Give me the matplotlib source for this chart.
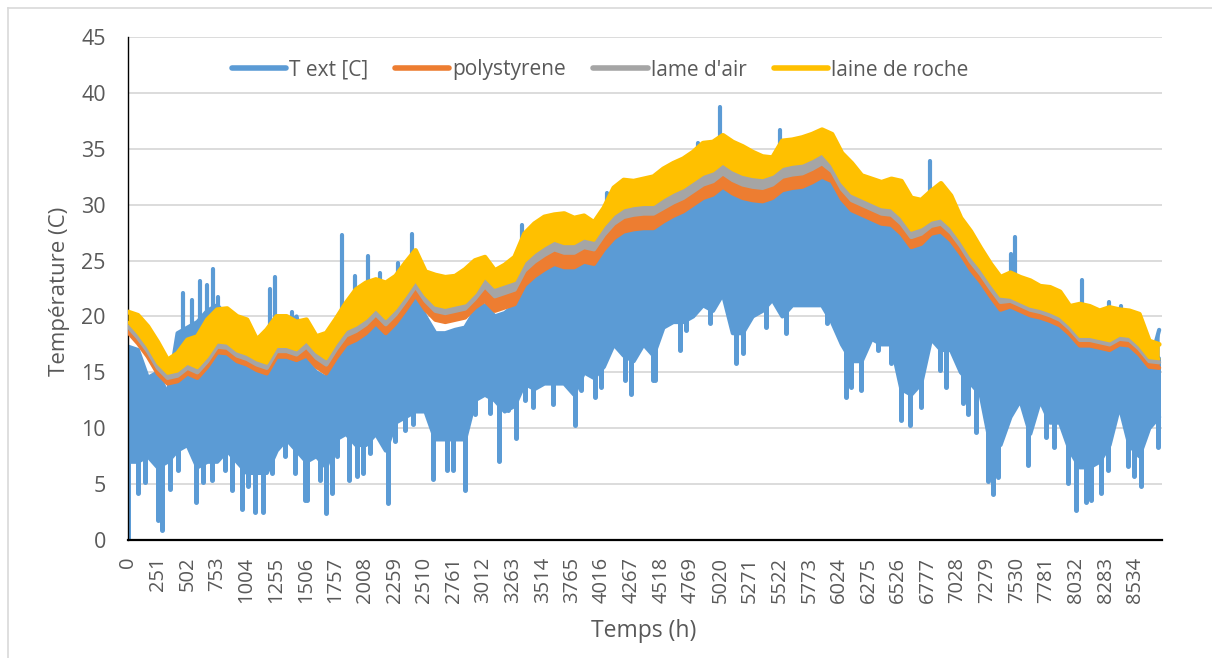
import numpy as np
import matplotlib
matplotlib.use("Agg")
import matplotlib.pyplot as plt
from matplotlib.lines import Line2D

plt.rcParams["font.family"] = ["Open Sans", "DejaVu Sans"]

# ---------------- data ----------------
hours = list(range(0, 8760, 84))          # sample hours (every 84 h)

# T ext: solid body of the hourly trace (lower floor / upper edge)
text_floor = [7.0, 7.0, 7.5, 6.5, 7.0, 8.0, 8.5, 6.5, 7.0, 7.0, 8.0, 7.0, 6.0, 6.0, 6.0, 8.0, 9.0, 8.0,
              7.0, 7.5, 6.5, 9.0, 9.5, 8.5, 8.5, 9.5, 8.0, 10.5, 11.0, 11.5, 11.5, 9.0, 9.0, 9.0, 9.0, 12.5,
              13.0, 12.5, 11.5, 12.0, 14.0, 13.5, 14.0, 14.0, 14.0, 13.0, 15.0, 14.5, 15.5, 17.5, 16.5, 16.0, 17.5, 16.5,
              19.0, 19.5, 19.5, 20.0, 21.0, 20.5, 22.0, 18.5, 18.5, 20.0, 20.5, 21.5, 20.0, 21.0, 21.0, 21.0, 21.0,
              19.5, 17.5, 16.0, 16.0, 18.0, 17.5, 17.5, 13.5, 13.0, 14.0,
              18.0, 17.0, 17.0, 15.0, 14.0, 13.0, 8.5, 8.5,
              11.0, 12.5, 9.5, 12.5, 10.5, 10.5, 8.0, 6.5, 6.5, 7.0, 8.5, 12.0, 8.5, 7.5, 10.0, 11.0]

text_high = [17.3, 17.0, 14.5, 15.0, 13.0, 18.5, 19.0, 19.5, 20.5, 21.0, 20.0, 18.0, 19.0, 18.0, 18.5, 19.5, 18.8, 20.0,
             16.0, 15.0, 14.5, 17.0, 17.5, 18.0, 18.5, 19.4, 18.5, 19.4, 20.6, 21.9, 20.0, 18.5, 18.5, 18.8, 19.0, 20.5,
             21.0, 20.0, 20.3, 21.0, 22.5, 23.5, 24.0, 24.5, 24.2, 24.2, 24.7, 24.5, 25.8, 26.8, 27.4, 27.6, 27.7, 27.7,
             28.3, 28.8, 29.2, 29.8, 30.4, 30.7, 31.4, 30.8, 30.4, 30.2, 30.1, 30.4, 31.1, 31.3, 31.4, 31.8, 32.3,
             31.9, 30.3, 29.2, 28.8, 28.4, 28.0, 28.0, 27.2, 26.0, 26.3,
             27.2, 27.4, 26.6, 25.4, 24.0, 23.0, 21.6, 20.4,
             23.0, 22.0, 19.8, 19.6, 19.4, 19.0, 18.0, 17.2, 17.2, 17.0, 18.0, 18.5, 17.2, 16.4, 15.5, 18.8]

# T ext: narrow downward excursions (daily minima below the body)
dip_hours = [0, 88, 144, 257, 291, 356, 426, 576, 638, 708, 821, 878, 962, 1019, 1075, 1146, 1216, 1329, 1414, 1499,
             1513, 1626, 1676, 1725, 1767, 1874, 1936, 1993, 2049, 2205, 2261, 2346, 2416, 2586, 2699, 2755, 2854,
             2938, 3065, 3141, 3220, 3283, 3361, 3432, 3601, 3785, 3841, 3954, 4011, 4209, 4265, 4449,
             4462, 4674, 4731, 4928, 5154, 5210, 5408, 5578, 5918,
             6085, 6128, 6212, 6354, 6466, 6551, 6622, 6720, 6875, 6932, 7073, 7116, 7186, 7285, 7327, 7370,
             7623, 7779, 7849, 7962, 8033, 8117, 8160, 8244, 8301, 8471, 8527, 8583, 8724]
dip_values = [0.0, 4.2, 5.2, 1.8, 0.9, 4.6, 6.3, 3.4, 5.2, 5.4, 6.3, 4.5, 2.8, 4.8, 2.5, 2.5, 6.0, 7.5, 6.0, 3.6,
              3.6, 5.4, 2.4, 4.2, 7.5, 5.4, 5.7, 6.0, 7.8, 3.3, 8.9, 9.8, 10.4, 5.5, 6.3, 6.3, 4.5,
              11.3, 11.4, 7.1, 11.6, 9.1, 12.5, 11.9, 12.2, 10.3, 13.4, 12.8, 13.7, 14.3, 13.1, 14.3,
              14.3, 17.0, 18.8, 19.4, 15.8, 16.7, 19.1, 18.5, 19.4,
              12.8, 13.7, 13.4, 17.0, 15.8, 10.7, 10.3, 11.9, 15.2, 13.7, 12.3, 11.3, 9.7, 5.3, 4.1, 5.6,
              6.7, 9.2, 8.3, 5.1, 2.7, 3.4, 3.6, 4.2, 6.3, 6.6, 5.7, 4.8, 8.3]

# T ext: narrow upward peaks
spike_hours = [469, 540, 610, 666, 722, 765, 1200, 1245, 1388, 1812, 1922, 2032, 2134, 2290, 2402, 3341, 4062,
               4829, 5017, 5526, 6791, 7480, 7511, 8086, 8315, 8414]
spike_values = [22.1, 21.5, 23.2, 22.8, 24.2, 21.7, 22.5, 23.5, 20.4, 27.3, 23.6, 25.4, 23.9, 24.8, 27.4, 28.2, 31.0,
                35.5, 38.7, 36.7, 33.9, 25.6, 27.1, 23.3, 21.3, 20.9]

# wall temperatures: bottom edge of each series' band, top edge of laine de roche
poly_low = [18.6, 17.6, 16.4, 14.9, 14.0, 14.2, 14.9, 14.5, 15.5, 16.8, 16.7, 16.0, 15.7, 15.2, 14.9, 16.4, 16.4, 16.1,
            16.5, 15.5, 14.9, 16.3, 17.5, 17.9, 18.5, 19.4, 18.5, 19.4, 20.6, 21.9, 20.6, 19.7, 19.5, 19.7, 19.9, 20.8,
            21.4, 20.5, 20.8, 21.1, 22.8, 23.6, 24.2, 24.7, 24.4, 24.4, 24.9, 24.7, 26.0, 27.0, 27.6, 27.8, 27.9, 27.9,
            28.5, 29.0, 29.4, 30.0, 30.6, 30.9, 31.6, 31.0, 30.6, 30.4, 30.3, 30.6, 31.3, 31.5, 31.6, 32.0, 32.5,
            32.1, 30.5, 29.5, 29.1, 28.7, 28.3, 28.2, 27.4, 26.2, 26.5,
            27.4, 27.6, 26.8, 25.6, 24.2, 23.1, 21.8, 20.6,
            20.9, 20.5, 20.1, 19.9, 19.6, 19.2, 18.4, 17.4, 17.4, 17.2, 17.0, 17.5, 17.4, 16.6, 15.5, 15.4]

air_low = [19.1, 18.1, 16.9, 15.4, 14.5, 14.7, 15.4, 15.0, 16.0, 17.3, 17.2, 16.5, 16.2, 15.7, 15.4, 16.9, 16.9, 16.6,
           17.3, 16.3, 15.7, 17.1, 18.3, 18.7, 19.3, 20.2, 19.3, 20.2, 21.4, 22.7, 21.4, 20.5, 20.3, 20.5, 20.7, 21.6,
           22.7, 21.8, 22.1, 22.4, 24.1, 24.9, 25.5, 26.0, 25.7, 25.7, 26.2, 26.0, 27.3, 28.3, 28.9, 29.1, 29.2, 29.2,
           29.7, 30.2, 30.6, 31.2, 31.8, 32.1, 32.8, 32.2, 31.8, 31.6, 31.5, 31.8, 32.5, 32.7, 32.8, 33.2, 33.7,
           33.0, 31.4, 30.4, 30.0, 29.6, 29.2, 29.1, 28.3, 27.1, 27.4,
           28.1, 28.3, 27.5, 26.3, 24.9, 23.8, 22.5, 21.3,
           21.4, 21.0, 20.6, 20.4, 20.1, 19.7, 18.9, 17.9, 17.9, 17.7, 17.5, 18.0, 17.9, 17.1, 16.0, 15.9]

roche_low = [19.5, 18.5, 17.3, 15.8, 14.9, 15.1, 15.8, 15.4, 16.4, 17.7, 17.6, 16.9, 16.6, 16.1, 15.8, 17.3, 17.3, 17.0,
             17.8, 16.8, 16.2, 17.6, 18.8, 19.2, 19.8, 20.7, 19.8, 20.7, 21.9, 23.2, 21.9, 21.0, 20.8, 21.0, 21.2, 22.1,
             23.5, 22.6, 22.9, 23.2, 24.9, 25.7, 26.3, 26.8, 26.5, 26.5, 27.0, 26.8, 28.1, 29.1, 29.7, 29.9, 30.0, 30.0,
             30.6, 31.1, 31.5, 32.1, 32.7, 33.0, 33.7, 33.1, 32.7, 32.5, 32.4, 32.7, 33.4, 33.6, 33.7, 34.1, 34.6,
             33.6, 32.0, 31.0, 30.6, 30.2, 29.8, 29.7, 28.9, 27.7, 28.0,
             28.6, 28.8, 28.0, 26.8, 25.4, 24.3, 23.0, 21.8,
             21.7, 21.3, 20.9, 20.7, 20.4, 20.0, 19.2, 18.2, 18.2, 18.0, 17.8, 18.3, 18.2, 17.4, 16.3, 16.2]

roche_high = [20.4, 20.1, 19.1, 17.7, 16.1, 16.7, 17.9, 18.2, 19.7, 20.6, 20.7, 20.0, 19.7, 17.9, 18.8, 20.0, 20.0, 19.5,
              19.7, 18.2, 18.5, 19.8, 21.2, 22.4, 23.0, 23.3, 23.0, 23.6, 24.8, 25.9, 24.0, 23.7, 23.5, 23.6, 24.2, 25.0,
              25.3, 24.1, 24.6, 25.3, 27.4, 28.3, 28.9, 29.1, 29.2, 28.8, 29.0, 28.4, 29.7, 31.5, 32.2, 32.1, 32.3, 32.5,
              33.2, 33.7, 34.1, 34.7, 35.5, 35.6, 36.2, 35.6, 35.2, 34.7, 34.3, 34.2, 35.7, 35.8, 36.0, 36.3, 36.7,
              36.3, 34.6, 33.7, 32.6, 32.3, 32.0, 32.3, 32.1, 30.6, 30.4,
              31.2, 31.9, 30.8, 28.8, 27.6, 26.1, 24.7, 23.5,
              23.9, 23.5, 23.2, 22.7, 22.6, 22.2, 20.9, 21.1, 20.9, 20.5, 20.8, 20.6, 20.5, 20.2, 17.8, 17.5]

series_names = ["T ext [C]", "polystyrene", "lame d'air", "laine de roche"]
series_colors = ["#5B9BD5", "#ED7D31", "#A5A5A5", "#FFC000"]
xtick_values = list(range(0, 8760, 251))
ytick_values = list(range(0, 50, 5))

# ---------------- figure ----------------
W, H = 1212, 658
fig = plt.figure(figsize=(W / 100, H / 100), dpi=100)
ax = fig.add_axes([128 / W, 1 - 540 / H, (1162 - 128) / W, (540 - 37) / H])

blue, orange, gray, yellow = series_colors
lw_line = 3.0
rnd = dict(solid_joinstyle="round", solid_capstyle="round")

# T ext
ax.fill_between(hours, text_floor, text_high, color=blue, lw=0, zorder=2)
ax.plot(hours, text_high, color=blue, lw=lw_line, zorder=2, **rnd)
ax.plot(hours, text_floor, color=blue, lw=lw_line, zorder=2, **rnd)
ax.vlines(spike_hours, [v - 8 for v in spike_values], spike_values, color=blue, lw=lw_line,
          capstyle="round", zorder=2)
ax.vlines(dip_hours, dip_values, [v + 8 for v in dip_values], color=blue, lw=lw_line + 0.6,
          capstyle="round", zorder=2)

# polystyrene
ax.fill_between(hours, poly_low, roche_low, color=orange, lw=0, zorder=3)
ax.plot(hours, poly_low, color=orange, lw=lw_line, zorder=3, **rnd)
# lame d'air
ax.fill_between(hours, air_low, roche_low, color=gray, lw=0, zorder=4)
ax.plot(hours, air_low, color=gray, lw=lw_line, zorder=4, **rnd)
# laine de roche
ax.fill_between(hours, roche_low, roche_high, color=yellow, lw=0, zorder=5)
ax.plot(hours, roche_low, color=yellow, lw=2, zorder=5, **rnd)
ax.plot(hours, roche_high, color=yellow, lw=lw_line + 0.5, zorder=5, **rnd)

ax.set_xlim(0, 8760)
ax.set_ylim(0, 45)
ax.set_yticks(ytick_values)
ax.set_xticks(xtick_values)
ax.set_xticklabels([str(v) for v in xtick_values], rotation=90)
ax.tick_params(axis="x", length=0, pad=12, labelsize=14.5, colors="#595959")
ax.tick_params(axis="y", length=0, pad=16, labelsize=15.5, colors="#595959")
ax.yaxis.grid(True, color="#d9d9d9", lw=1.3)
ax.set_axisbelow(True)
for s in ("top", "right"):
    ax.spines[s].set_visible(False)
ax.spines["left"].set_color("black")
ax.spines["left"].set_linewidth(1.0)
ax.spines["bottom"].set_color("black")
ax.spines["bottom"].set_linewidth(1.6)

fig.text(60 / W, 1 - 291 / H, "Température (C)", rotation=90, ha="center", va="center",
         fontsize=16, color="#595959")
fig.text(644 / W, 1 - 631 / H, "Temps (h)", ha="center", va="center", fontsize=16.5, color="#595959")

handles = [Line2D([0], [0], color=c, lw=4, solid_capstyle="round") for c in series_colors]
leg = fig.legend(handles, series_names, loc="center", bbox_to_anchor=(600 / W, 1 - 70 / H), ncol=4,
                 frameon=False, fontsize=15, handlelength=2.6, handletextpad=0.15, columnspacing=1.3)
for t in leg.get_texts():
    t.set_color("#595959")

# outer chart frame
fig.add_artist(Line2D([7.5 / W, 7.5 / W], [0, 1 - 8 / H], color="#d9d9d9", lw=1.2, transform=fig.transFigure))
fig.add_artist(Line2D([7.5 / W, 1], [1 - 8 / H, 1 - 8 / H], color="#d9d9d9", lw=1.2, transform=fig.transFigure))

fig.savefig("out.png", dpi=100)
